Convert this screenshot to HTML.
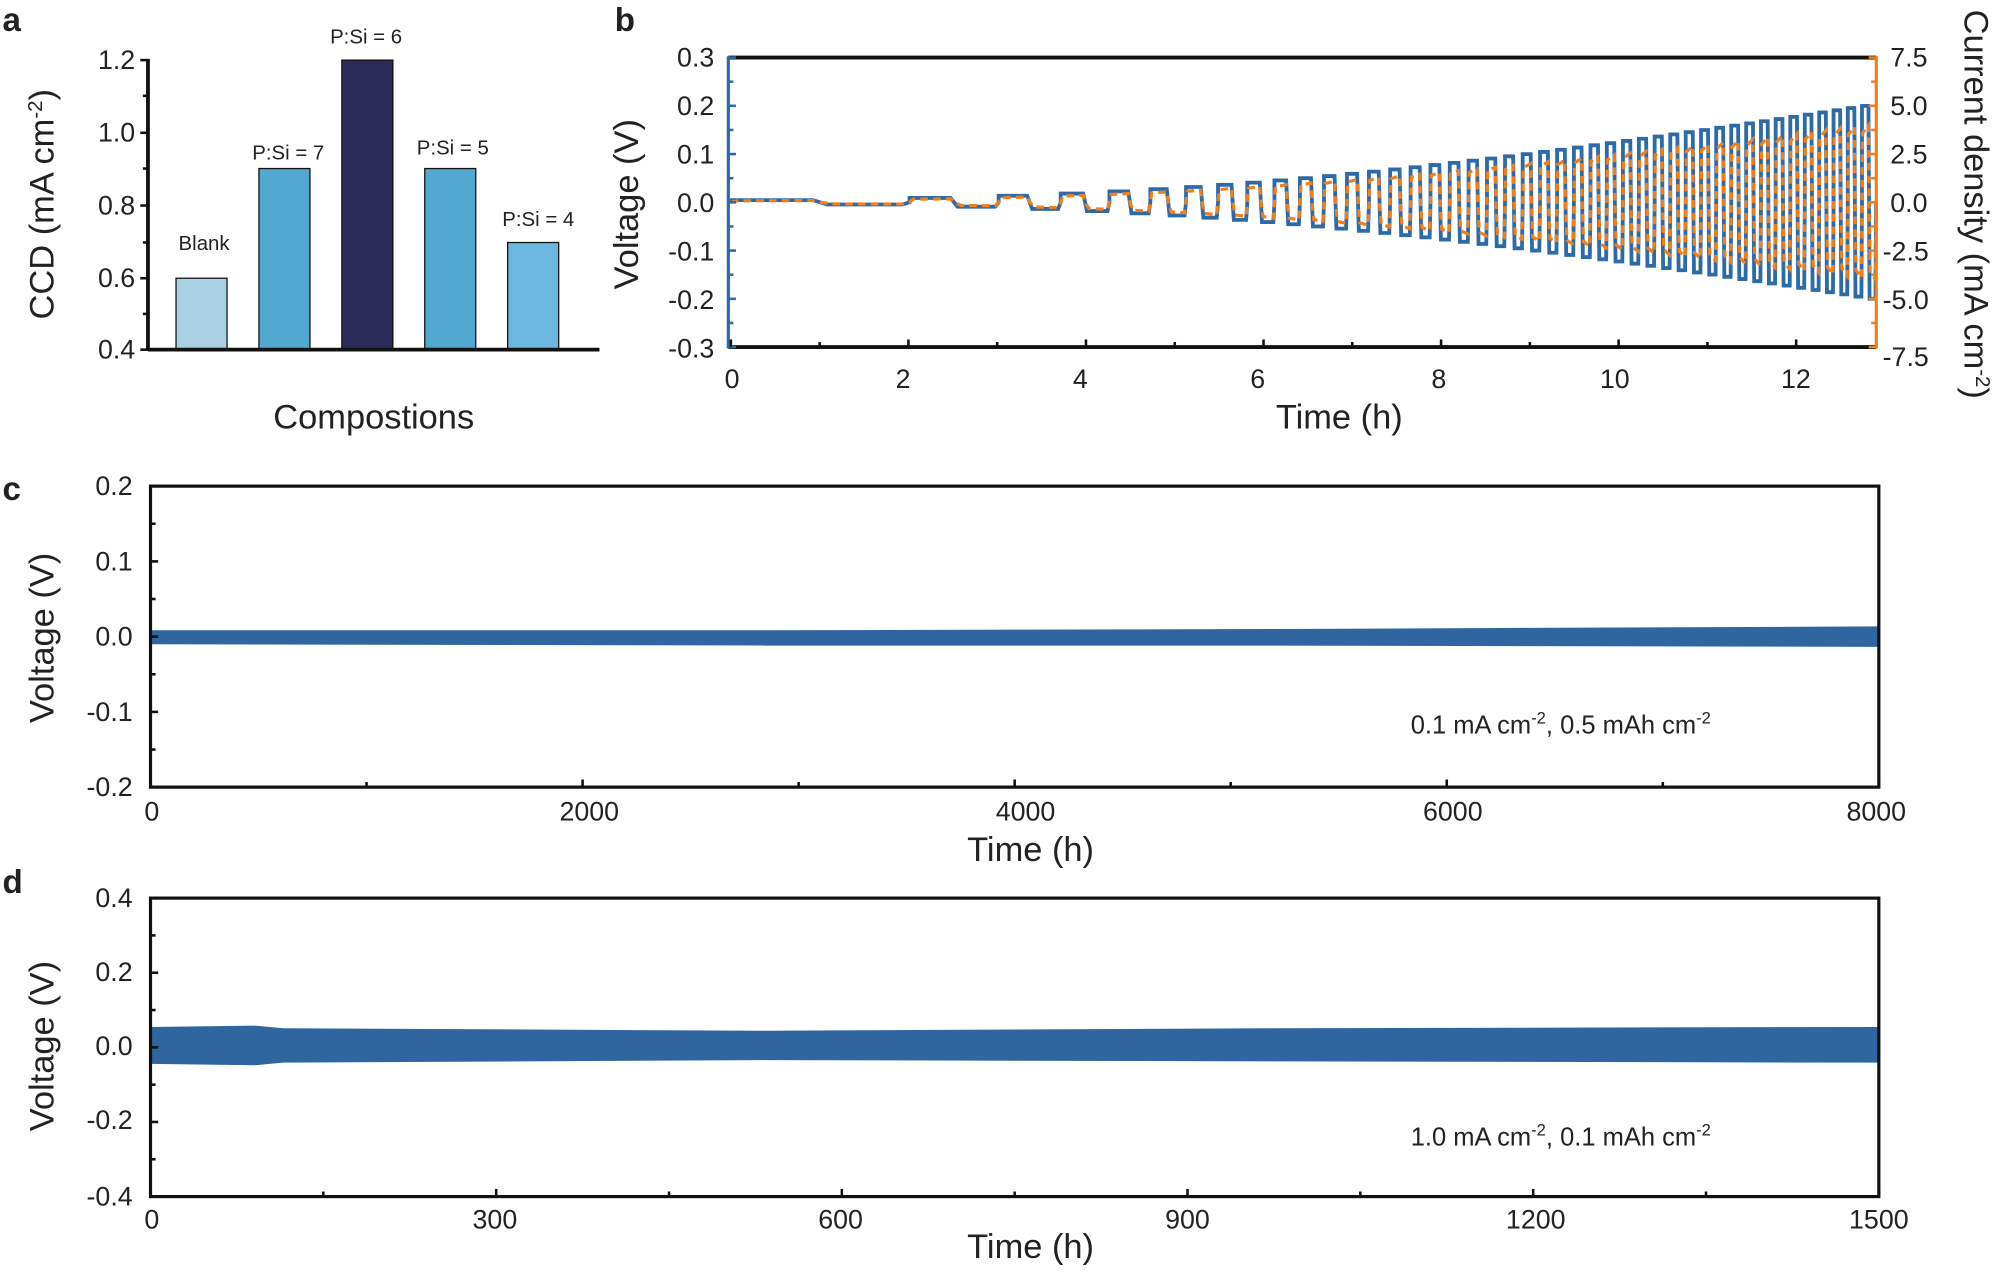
<!DOCTYPE html>
<html><head><meta charset="utf-8"><style>
html,body{margin:0;padding:0;background:#fff;}
svg{display:block;}
text{font-family:"Liberation Sans",Arial,sans-serif;fill:#222;}
</style></head><body>
<svg id="s" width="2000" height="1272" viewBox="0 0 1568 997" xmlns="http://www.w3.org/2000/svg">
<rect width="1568" height="997" fill="#fff"/>
<!-- panel a -->
<text x="2" y="24" font-size="26" font-weight="bold">a</text>
<g stroke="#111" stroke-width="1">
<rect x="138" y="218" width="40" height="56" fill="#a9cfe3"/>
<rect x="203" y="132" width="40" height="142" fill="#52a8cf"/>
<rect x="268" y="47" width="40" height="227" fill="#2d2b5a"/>
<rect x="333" y="132" width="40" height="142" fill="#52a8cf"/>
<rect x="398" y="190" width="40" height="84" fill="#6ab7e0"/>
</g>
<g stroke="#111" stroke-width="3"><line x1="116" y1="46" x2="116" y2="275"/><line x1="116" y1="274" x2="470" y2="274"/></g>
<g stroke="#111" stroke-width="2">
<line x1="110" y1="47" x2="116" y2="47"/><line x1="110" y1="104" x2="116" y2="104"/><line x1="110" y1="161" x2="116" y2="161"/><line x1="110" y1="218" x2="116" y2="218"/><line x1="110" y1="274" x2="116" y2="274"/>
<line x1="112" y1="75" x2="116" y2="75"/><line x1="112" y1="132" x2="116" y2="132"/><line x1="112" y1="190" x2="116" y2="190"/><line x1="112" y1="246" x2="116" y2="246"/>
</g>
<g font-size="21" text-anchor="end">
<text x="106" y="54">1.2</text><text x="106" y="111">1.0</text><text x="106" y="168">0.8</text><text x="106" y="225">0.6</text><text x="106" y="281">0.4</text>
</g>
<g font-size="16" text-anchor="middle">
<text x="160" y="196">Blank</text><text x="226" y="125">P:Si = 7</text><text x="287" y="34">P:Si = 6</text><text x="355" y="121">P:Si = 5</text><text x="422" y="177">P:Si = 4</text>
</g>
<text x="293" y="336" font-size="27" text-anchor="middle">Compostions</text>
<text transform="translate(42,160) rotate(-90)" font-size="27" text-anchor="middle">CCD (mA cm<tspan dy="-9" font-size="16">-2</tspan><tspan dy="9">)</tspan></text>

<!-- panel b -->
<text x="482" y="24" font-size="26" font-weight="bold">b</text>
<g id="bwave"></g>
<line x1="571" y1="45" x2="1471" y2="45" stroke="#111" stroke-width="3"/>
<line x1="571" y1="272" x2="1471" y2="272" stroke="#111" stroke-width="3"/>
<line x1="571" y1="44" x2="571" y2="273" stroke="#2e6aa8" stroke-width="2.5"/>
<line x1="1471" y1="44" x2="1471" y2="273" stroke="#f07f1e" stroke-width="2.5"/>
<g id="bticks"></g>
<g font-size="21" text-anchor="end" id="bl">
<text x="560" y="52">0.3</text><text x="560" y="90">0.2</text><text x="560" y="128">0.1</text><text x="560" y="166">0.0</text><text x="560" y="204">-0.1</text><text x="560" y="242">-0.2</text><text x="560" y="280">-0.3</text>
</g>
<g font-size="21" text-anchor="start">
<text x="1482" y="52">7.5</text><text x="1482" y="90">5.0</text><text x="1482" y="128">2.5</text><text x="1482" y="166">0.0</text><text x="1476" y="204">-2.5</text><text x="1476" y="242">-5.0</text><text x="1476" y="287">-7.5</text>
</g>
<g font-size="21" text-anchor="middle">
<text x="574" y="304">0</text><text x="708" y="304">2</text><text x="847" y="304">4</text><text x="986" y="304">6</text><text x="1128" y="304">8</text><text x="1266" y="304">10</text><text x="1408" y="304">12</text>
</g>
<text x="1050" y="336" font-size="27" text-anchor="middle">Time (h)</text>
<text transform="translate(500,160) rotate(-90)" font-size="27" text-anchor="middle">Voltage (V)</text>
<text transform="translate(1540,160) rotate(90)" font-size="27" text-anchor="middle">Current density (mA cm<tspan dy="-9" font-size="16">-2</tspan><tspan dy="9">)</tspan></text>

<!-- panel c -->
<text x="2" y="392" font-size="26" font-weight="bold">c</text>
<path d="M118 494 L600 494 L1000 493 L1473 491 L1473 507 L1000 506 L600 506 L118 505 Z" fill="#2f66a0"/>
<rect x="118" y="381" width="1355" height="236" fill="none" stroke="#111" stroke-width="2.5"/>
<g id="cticks"></g>
<g font-size="21" text-anchor="end">
<text x="104" y="388">0.2</text><text x="104" y="447">0.1</text><text x="104" y="506">0.0</text><text x="104" y="565">-0.1</text><text x="104" y="624">-0.2</text>
</g>
<g font-size="21" text-anchor="middle">
<text x="119" y="643">0</text><text x="462" y="643">2000</text><text x="804" y="643">4000</text><text x="1139" y="643">6000</text><text x="1471" y="643">8000</text>
</g>
<text x="808" y="675" font-size="27" text-anchor="middle">Time (h)</text>
<text transform="translate(42,500) rotate(-90)" font-size="27" text-anchor="middle">Voltage (V)</text>
<text x="1106" y="575" font-size="20">0.1 mA cm<tspan dy="-8" font-size="13">-2</tspan><tspan dy="8">, 0.5 mAh cm</tspan><tspan dy="-8" font-size="13">-2</tspan></text>

<!-- panel d -->
<text x="2" y="700" font-size="26" font-weight="bold">d</text>
<path d="M118 805 L200 804 L222 806 L600 808 L1000 806 L1473 805 L1473 833 L1000 832 L600 831 L222 833 L200 835 L118 834 Z" fill="#2f66a0"/>
<rect x="118" y="704" width="1355" height="234" fill="none" stroke="#111" stroke-width="2.5"/>
<g id="dticks"></g>
<g font-size="21" text-anchor="end">
<text x="104" y="711">0.4</text><text x="104" y="769">0.2</text><text x="104" y="827">0.0</text><text x="104" y="885">-0.2</text><text x="104" y="945">-0.4</text>
</g>
<g font-size="21" text-anchor="middle">
<text x="119" y="963">0</text><text x="388" y="963">300</text><text x="659" y="963">600</text><text x="931" y="963">900</text><text x="1204" y="963">1200</text><text x="1473" y="963">1500</text>
</g>
<text x="808" y="986" font-size="27" text-anchor="middle">Time (h)</text>
<text transform="translate(42,820) rotate(-90)" font-size="27" text-anchor="middle">Voltage (V)</text>
<text x="1106" y="898" font-size="20">1.0 mA cm<tspan dy="-8" font-size="13">-2</tspan><tspan dy="8">, 0.1 mAh cm</tspan><tspan dy="-8" font-size="13">-2</tspan></text>
</svg>
<script>
(function(){
var NS="http://www.w3.org/2000/svg";
function el(p,t,a){var e=document.createElementNS(NS,t);for(var k in a)e.setAttribute(k,a[k]);p.appendChild(e);return e;}
var X=function(h){return 573+h*69.6;}, Y0=158.5, VS=378;
var N=44, t=0, cyc=[];
for(var n=1;n<=N;n++){var P=n==1?2.1:0.13+1.9/Math.pow(n,1.05);cyc.push([t,P,n]);t+=P;}
var sc=12.9/t;
var dv="M"+X(0)+" "+Y0, di="M"+X(0)+" "+Y0;
cyc.forEach(function(c){var s=c[0]*sc,P=c[1]*sc,a=0.2*c[2]/N*VS,b=a*0.8,r=P*0.04;
 var x0=X(s),x1=X(s+P/2),x2=X(s+P),rr=r*69.6;
 dv+=" L"+x0+" "+(Y0-a)+" L"+(x1-rr)+" "+(Y0-a)+" L"+x1+" "+Y0+" L"+(x1+rr)+" "+(Y0+a)+" L"+(x2-rr)+" "+(Y0+a)+" L"+x2+" "+Y0;
 di+=" L"+(x0+rr)+" "+(Y0-b*0.9)+" L"+(x1-rr)+" "+(Y0-b)+" L"+x1+" "+Y0+" L"+(x1+rr*2)+" "+(Y0+b*0.9)+" L"+(x2-rr)+" "+(Y0+b)+" L"+x2+" "+Y0;
});
var g=document.getElementById("bwave");
el(g,"path",{d:dv,fill:"none",stroke:"#2e6aa8","stroke-width":3});
el(g,"path",{d:di,fill:"none",stroke:"#f07f1e","stroke-width":2.5,"stroke-dasharray":"6,4"});
var bt=document.getElementById("bticks");
for(var i=0;i<=12;i++){var y=45+i*227/12;el(bt,"line",{x1:571,y1:y,x2:i%2?575:577,y2:y,stroke:"#2e6aa8","stroke-width":2});el(bt,"line",{x1:1465+(i%2?2:0),y1:y,x2:1471,y2:y,stroke:"#f07f1e","stroke-width":2});}
for(var h=0;h<=12;h++){var x=X(h);el(bt,"line",{x1:x,y1:272,x2:x,y2:h%2?268:266,stroke:"#111","stroke-width":2});}
var ct=document.getElementById("cticks");
for(var i=0;i<=8;i++){var x=118+i*1355/8;el(ct,"line",{x1:x,y1:617,x2:x,y2:i%2?613:611,stroke:"#111","stroke-width":2});}
for(var i=0;i<=8;i++){var y=381+i*236/8;el(ct,"line",{x1:118,y1:y,x2:i%2?122:124,y2:y,stroke:"#111","stroke-width":2});}
var dt=document.getElementById("dticks");
for(var i=0;i<=10;i++){var x=118+i*1355/10;el(dt,"line",{x1:x,y1:938,x2:x,y2:i%2?934:932,stroke:"#111","stroke-width":2});}
for(var i=0;i<=8;i++){var y=704+i*234/8;el(dt,"line",{x1:118,y1:y,x2:i%2?122:124,y2:y,stroke:"#111","stroke-width":2});}
})();
</script>
</body></html>
